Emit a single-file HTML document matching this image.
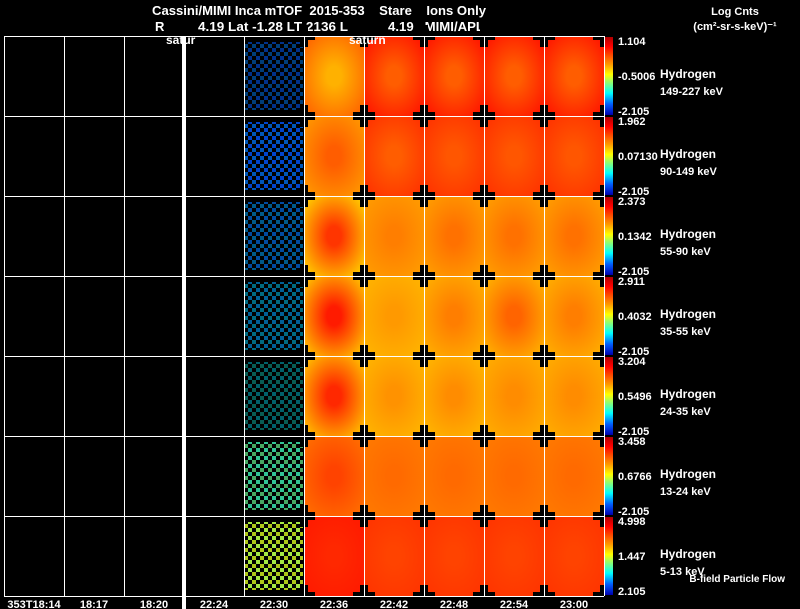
<!DOCTYPE html>
<html><head><meta charset="utf-8"><style>
html,body{margin:0;padding:0;background:#000;}
svg{display:block;font-family:"Liberation Sans",sans-serif;font-weight:bold;}
text{white-space:pre;}
</style></head><body>
<svg id="chart" width="800" height="609" viewBox="0 0 800 609">
<defs>
<linearGradient id="cbar" x1="0" y1="0" x2="0" y2="1">
<stop offset="0" stop-color="#b00000"/><stop offset="0.12" stop-color="#ff0000"/><stop offset="0.35" stop-color="#ff9900"/>
<stop offset="0.48" stop-color="#ffff00"/><stop offset="0.6" stop-color="#80ff80"/><stop offset="0.72" stop-color="#00ffff"/>
<stop offset="0.86" stop-color="#0060ff"/><stop offset="1" stop-color="#0000b0"/></linearGradient>
</defs>
<text x="152" y="15" fill="#fff" font-size="13" textLength="334" lengthAdjust="spacingAndGlyphs">Cassini/MIMI Inca mTOF  2015-353    Stare    Ions Only</text>
<text x="155" y="31" fill="#fff" font-size="13">R</text>
<text x="198" y="31" fill="#fff" font-size="13" textLength="150" lengthAdjust="spacingAndGlyphs">4.19 Lat -1.28 LT 2136 L</text>
<text x="388" y="31" fill="#fff" font-size="13" textLength="96" lengthAdjust="spacingAndGlyphs">4.19   MIMI/APL</text>
<text x="735" y="15" fill="#fff" font-size="11" text-anchor="middle">Log Cnts</text>
<text x="735" y="30" fill="#fff" font-size="11" text-anchor="middle">(cm²-sr-s-keV)⁻¹</text>
<g id="panels"></g>
<g id="grid"></g>
<text x="166" y="44" fill="#fff" font-size="12">satur</text>
<text x="349" y="44" fill="#fff" font-size="12">saturn</text>
<text x="785" y="582" fill="#fff" font-size="10" text-anchor="end">B-field Particle Flow</text>
</svg>
<script>
const timeLabels=["353T18:14","18:17","18:20","22:24","22:30","22:36","22:42","22:48","22:54","23:00"];
const energyLabels=["149-227 keV","90-149 keV","55-90 keV","35-55 keV","24-35 keV","13-24 keV","5-13 keV"];
const cbarMax=["1.104","1.962","2.373","2.911","3.204","3.458","4.998"];
const cbarMid=["-0.5006","0.07130","0.1342","0.4032","0.5496","0.6766","1.447"];
const cbarMin=["-2.105","-2.105","-2.105","-2.105","-2.105","-2.105","2.105"];
const sparseLevel=[0.13,0.12,0.16,0.2,0.26,0.34,0.45];
const sparseDensity=[0.4,0.6,0.45,0.42,0.3,0.55,0.65];
const centreLevel=[[0.62,0.74,0.74,0.74,0.74],[0.74,0.74,0.75,0.75,0.75],[0.80,0.69,0.71,0.71,0.71],[0.84,0.65,0.69,0.73,0.69],[0.82,0.66,0.67,0.67,0.67],[0.78,0.72,0.72,0.72,0.72],[0.82,0.78,0.78,0.78,0.78]];
const edgeLevel=[[0.72,0.84,0.84,0.84,0.84],[0.66,0.80,0.80,0.80,0.80],[0.60,0.65,0.65,0.65,0.65],[0.62,0.62,0.63,0.63,0.63],[0.62,0.62,0.62,0.63,0.63],[0.72,0.70,0.70,0.70,0.70],[0.84,0.80,0.80,0.80,0.80]];

const X0=4,COLW=60,Y0=36,ROWH=80,NCOL=10,NROW=7;
const xOf=c=>X0+c*COLW, yOf=r=>Y0+r*ROWH;
const NS="http://www.w3.org/2000/svg";
function jet(v){
  const st=[[0,[0,0,176]],[0.14,[0,96,255]],[0.28,[0,255,255]],[0.4,[128,255,128]],[0.52,[255,255,0]],[0.65,[255,153,0]],[0.88,[255,0,0]],[1,[176,0,0]]];
  v=Math.max(0,v);
  for(let i=1;i<st.length;i++){if(v<=st[i][0]){const a=st[i-1],b=st[i],t=(v-a[0])/(b[0]-a[0]);
    return "rgb("+a[1].map((c,k)=>Math.round(c+(b[1][k]-c)*t)).join(",")+")";}}
  return "rgb(176,0,0)";
}
function mk(tag,attrs,parent){const e=document.createElementNS(NS,tag);for(const k in attrs)e.setAttribute(k,attrs[k]);parent.appendChild(e);return e;}
const svg=document.getElementById('chart'),defs=svg.querySelector('defs'),P=document.getElementById('panels'),G=document.getElementById('grid');

for(let r=0;r<NROW;r++){
  const pat=mk('pattern',{id:'sp'+r,width:8,height:8,patternUnits:'userSpaceOnUse'},defs);
  const d=sparseDensity[r];
  mk('rect',{x:0,y:0,width:4,height:4,fill:jet(sparseLevel[r]),'fill-opacity':Math.min(1,d*1.4)},pat);
  mk('rect',{x:4,y:4,width:4,height:4,fill:jet(sparseLevel[r]+0.04),'fill-opacity':Math.min(1,d*1.2)},pat);
  const sp=mk('rect',{x:xOf(4)+1,y:yOf(r)+6,width:COLW-2,height:ROWH-12,fill:'url(#sp'+r+')'},P);
  
  
  for(let c=0;c<5;c++){
    const gid='rg'+r+'_'+c;
    const g=mk('radialGradient',{id:gid,cx:0.5,cy:0.5,r:0.6},defs);
    mk('stop',{offset:0.2,'stop-color':jet(centreLevel[r][c])},g);
    mk('stop',{offset:1,'stop-color':jet(edgeLevel[r][c])},g);
    const cell=mk('rect',{x:xOf(5+c),y:yOf(r),width:COLW,height:ROWH,fill:'url(#'+gid+')'},P);
    
    
  }
  const cb=mk('rect',{x:605,y:yOf(r)+1,width:8,height:ROWH-2,fill:'url(#cbar)'},G);
  
  
  const lab=[[cbarMax[r],yOf(r)+9],[cbarMid[r],yOf(r)+ROWH/2+4],[cbarMin[r],yOf(r)+ROWH-1]];
  lab.forEach((l,i)=>{const t=mk('text',{x:618,y:l[1],fill:'#fff','font-size':11},G);t.textContent=l[0];
    
    });
  const h=mk('text',{x:660,y:yOf(r)+42,fill:'#fff','font-size':12},G);h.textContent='Hydrogen';
  
  
  const e=mk('text',{x:660,y:yOf(r)+59,fill:'#fff','font-size':11},G);e.textContent=energyLabels[r];
  
  
}
for(let r=0;r<=NROW;r++)for(let c=5;c<=NCOL;c++){
  const cx=xOf(c),cy=yOf(r);
  const g=mk('g',{fill:'#000'},P);
  mk('rect',{x:cx-11,y:cy-4,width:22,height:8},g);
  mk('rect',{x:cx-4,y:cy-11,width:8,height:22},g);
}
for(let c=0;c<=NCOL;c++){const l=mk('line',{x1:xOf(c)+0.5,x2:xOf(c)+0.5,y1:Y0,y2:Y0+NROW*ROWH,stroke:'#fff','stroke-width':1},G);
  
  }
for(let r=0;r<=NROW;r++){const l=mk('line',{x1:X0,x2:xOf(NCOL),y1:yOf(r)+0.5,y2:yOf(r)+0.5,stroke:'#fff','stroke-width':1},G);
  
  }
const gap=mk('rect',{x:182,y:Y0,width:4,height:NROW*ROWH+13,fill:'#fff'},G);


timeLabels.forEach((t,i)=>{const e=mk('text',{x:xOf(i)+COLW/2,y:608,fill:'#fff','font-size':11,'text-anchor':'middle'},G);e.textContent=t;
  
  });
</script>
</body></html>
